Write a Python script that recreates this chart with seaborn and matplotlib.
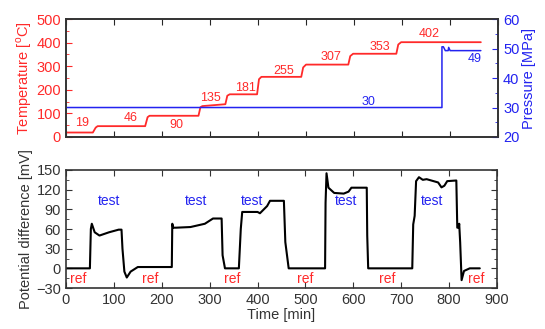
import matplotlib
matplotlib.use("Agg")
import matplotlib.pyplot as plt
import seaborn as sns
import pandas as pd
from matplotlib.ticker import MultipleLocator

# ---------------- data ----------------
temp_time = [0, 56, 62, 66, 165, 170, 174, 276, 280, 284, 332, 336, 341, 398, 402, 407,
             490, 494, 500, 588, 592, 598, 688, 692, 698, 864]
temp_vals = [19, 19, 40, 46, 46, 84, 90, 90, 126, 131, 139, 175, 181, 181, 245, 255,
             255, 295, 307, 307, 343, 353, 353, 392, 402, 402]

press_time = [0, 783, 783, 786, 790, 796, 797, 800, 864]
press_vals = [30, 30, 50.6, 50.6, 49.3, 49.3, 50.4, 49.3, 49.3]

pot_time = [0, 50, 52, 54, 60, 70, 90, 110, 116, 118, 122, 127, 135, 150, 221, 222, 224,
            230, 260, 290, 307, 325, 327, 332, 361, 365, 368, 400, 405, 420, 426, 455,
            458, 465, 541, 542, 544, 548, 560, 580, 590, 596, 628, 629, 631, 723, 725,
            728, 731, 737, 745, 753, 777, 784, 790, 796, 815, 817, 820, 821, 823, 826,
            831, 843, 864]
pot_vals = [0, 0, 60, 68, 55, 50, 55, 59, 59, 30, -5, -14, -5, 2, 2, 68, 62,
            62, 63, 68, 76, 76, 20, 0, 0, 60, 86, 86, 84, 95, 103, 103,
            40, 0, 0, 100, 145, 123, 115, 114, 117, 123, 123, 50, 0, 0, 67,
            80, 133, 139, 135, 136, 131, 123.5, 126, 133, 134, 62, 62, 68, 40, -18,
            -4, 0, 0]

temp_labels = ["19", "46", "90", "135", "181", "255", "307", "353", "402"]
temp_label_x = [33, 135, 230, 300, 374, 453, 551, 653, 756]
temp_label_y = [59, 80, 51, 165, 208, 280, 339, 381, 436]

press_labels = ["30", "49"]
press_label_x = [630, 852]
press_label_y = [31.9, 46.4]

test_x = [90, 271, 389, 585, 764]
test_y = [102, 102, 102, 102, 102]
ref_x = [25, 177, 348, 499, 670, 856]
ref_y = [-16, -16, -16, -16, -16, -16]

RED = "#ff2a2a"
BLUE = "#2323f0"

sns.set_style("ticks")
plt.rcParams["font.family"] = ["Liberation Sans", "DejaVu Sans"]
plt.rcParams["mathtext.fontset"] = "custom"
plt.rcParams["mathtext.rm"] = "Liberation Sans"
plt.rcParams["xtick.direction"] = "in"
plt.rcParams["ytick.direction"] = "in"

fig = plt.figure(figsize=(5.45, 3.29), dpi=100)
ax1 = fig.add_axes([0.121, 0.5836, 0.793, 0.3584])
ax3 = fig.add_axes([0.121, 0.1246, 0.791, 0.3587])

# ---------- top panel ----------
df_t = pd.DataFrame({"t": temp_time, "T": temp_vals})
sns.lineplot(data=df_t, x="t", y="T", ax=ax1, color=RED, lw=1.3, estimator=None, sort=False)
ax1.set_xlim(0, 900)
ax1.set_ylim(0, 500)
ax1.xaxis.set_major_locator(MultipleLocator(100))
ax1.yaxis.set_major_locator(MultipleLocator(100))
ax1.yaxis.set_minor_locator(MultipleLocator(50))
ax1.tick_params(axis="x", which="both", top=True, bottom=True, labelbottom=False, length=4)
ax1.tick_params(axis="y", which="both", colors=RED, labelcolor=RED, labelsize=10.5)
ax1.tick_params(axis="y", which="major", length=4)
ax1.tick_params(axis="y", which="minor", length=2.5)
ax1.set_xlabel("")
ax1.set_ylabel("Temperature [$^{\\mathrm{o}}$C]", color=RED, fontsize=10.5, labelpad=2)
for s, xx, yy in zip(temp_labels, temp_label_x, temp_label_y):
    ax1.text(xx, yy, s, color=RED, fontsize=9, ha="center", va="center")

ax2 = ax1.twinx()
df_p = pd.DataFrame({"t": press_time, "P": press_vals})
sns.lineplot(data=df_p, x="t", y="P", ax=ax2, color=BLUE, lw=1.1, estimator=None, sort=False)
ax2.set_ylim(20, 60)
ax2.yaxis.set_major_locator(MultipleLocator(10))
ax2.yaxis.set_minor_locator(MultipleLocator(5))
ax2.tick_params(axis="y", which="both", colors=BLUE, labelcolor=BLUE, labelsize=10.5, direction="in")
ax2.tick_params(axis="y", which="major", length=4)
ax2.tick_params(axis="y", which="minor", length=2.5)
ax2.set_ylabel("Pressure [MPa]", color=BLUE, fontsize=10.5, labelpad=2)
for s, xx, yy in zip(press_labels, press_label_x, press_label_y):
    ax2.text(xx, yy, s, color=BLUE, fontsize=9, ha="center", va="center")

# ---------- bottom panel ----------
df_v = pd.DataFrame({"t": pot_time, "V": pot_vals})
sns.lineplot(data=df_v, x="t", y="V", ax=ax3, color="black", lw=1.5, estimator=None, sort=False)
ax3.set_xlim(0, 900)
ax3.set_ylim(-30, 150)
ax3.xaxis.set_major_locator(MultipleLocator(100))
ax3.yaxis.set_major_locator(MultipleLocator(30))
ax3.yaxis.set_minor_locator(MultipleLocator(15))
ax3.tick_params(axis="both", which="both", top=True, right=True, labelsize=10.5, colors="#333333")
ax3.tick_params(axis="both", which="major", length=4)
ax3.tick_params(axis="both", which="minor", length=2.5)
ax3.set_xlabel("Time [min]", fontsize=10.5, color="#333333", labelpad=1)
ax3.set_ylabel("Potential difference [mV]", fontsize=10.5, color="#333333", labelpad=2)
for xx, yy in zip(test_x, test_y):
    ax3.text(xx, yy, "test", color=BLUE, fontsize=10, ha="center", va="center")
for xx, yy in zip(ref_x, ref_y):
    ax3.text(xx, yy, "ref", color=RED, fontsize=10, ha="center", va="center")

for a in (ax1, ax2, ax3):
    for sp in a.spines.values():
        sp.set_color("#333333")
        sp.set_linewidth(1.2)

fig.savefig("out.png", dpi=100)
